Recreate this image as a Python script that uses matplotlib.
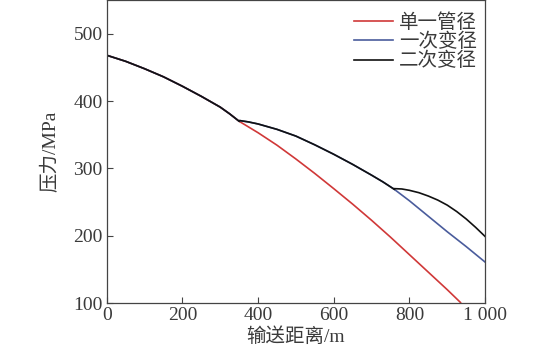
import matplotlib
matplotlib.use("Agg")
import matplotlib.pyplot as plt

plt.rcParams['font.family'] = ['Liberation Serif', 'Noto Sans CJK SC']

# ── data ────────────────────────────────────────────────────────
# shared section before the first reduction
x_common = [0, 50, 100, 150, 200, 250, 300, 325, 350]
p_common = [468, 459, 448, 436, 422, 407, 391, 381, 370]

# single pipe diameter, after 350 m
x_single = [350, 400, 450, 500, 550, 600, 650, 700, 750, 800, 850, 900, 935]
p_single = [370, 353, 334.5, 314, 292.5, 270, 247, 223, 198, 172, 146, 120, 101]

# first reduction (350 m -> 760 m)
x_red1 = [352, 375, 400, 450, 500, 550, 600, 650, 700, 730, 760]
p_red1 = [371, 369, 366, 358, 348, 335, 321, 306, 290, 280, 269]

# one reduction, after 760 m
x_once = [760, 800, 850, 900, 950, 1000]
p_once = [269, 252, 229, 206, 184, 161]

# second reduction, after 760 m
x_twice = [760, 780, 800, 825, 850, 875, 900, 925, 950, 975, 1000]
p_twice = [270, 269.5, 267.5, 264, 259, 253, 245.5, 236, 225, 212.5, 199]

labels = ['单一管径', '一次变径', '二次变径']
colors = ['#d03838', '#4a5c9c', '#111111']

xticks = [0, 200, 400, 600, 800, 1000]
xticklabels = ['0', '200', '400', '600', '800', '1 000']
yticks = [100, 200, 300, 400, 500]

# ── figure ──────────────────────────────────────────────────────
fig = plt.figure(figsize=(5.5, 3.55), dpi=100)
ax = fig.add_axes([0.194, 0.146, 0.688, 0.854])
txt = '#3a3a3a'
lw = 1.2
fs = 14

ax.plot(x_common + x_single, p_common + p_single, color=colors[0], lw=lw, label=labels[0])
ax.plot(x_common + x_red1 + x_once, p_common + p_red1 + p_once, color=colors[1], lw=lw, label=labels[1])
ax.plot(x_common, p_common, color=colors[2], lw=lw, label=labels[2])
ax.plot(x_red1, p_red1, color=colors[2], lw=lw)
ax.plot(x_twice, p_twice, color=colors[2], lw=lw)

ax.set_xlim(0, 1000)
ax.set_ylim(100, 550)
ax.set_xticks(xticks)
ax.set_xticklabels(xticklabels)
ax.set_yticks(yticks)
ax.tick_params(direction='in', length=4, width=0.8, colors='#444444',
               labelcolor=txt, labelsize=fs, pad=3)
for s in ax.spines.values():
    s.set_color('#444444')
    s.set_linewidth(0.9)

ax.set_xlabel('输送距离/m', fontsize=fs, color=txt, labelpad=2)
ax.set_ylabel('压力/MPa', fontsize=fs, color=txt, labelpad=10)

leg = ax.legend(loc='upper right', frameon=False, fontsize=fs,
                handlelength=2.0, handletextpad=0.3, labelspacing=0.05,
                borderaxespad=0.2, bbox_to_anchor=(1.01, 0.995))
for t in leg.get_texts():
    t.set_color(txt)

fig.savefig('out.png', dpi=100)
